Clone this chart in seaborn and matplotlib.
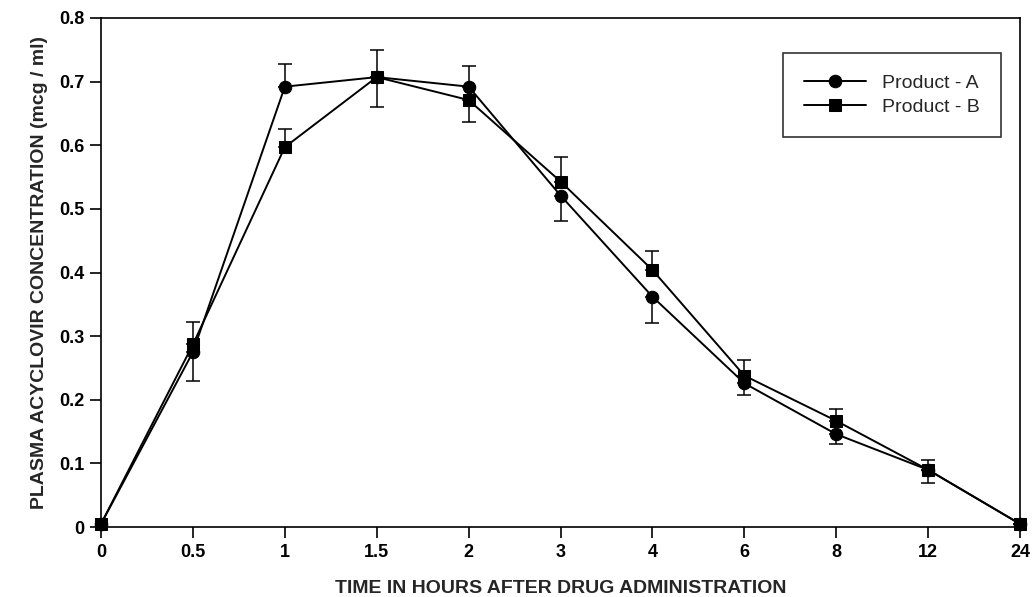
import numpy as np
import pandas as pd
import matplotlib
matplotlib.use("Agg")
import matplotlib.pyplot as plt
import seaborn as sns

# sampling times (hours), drawn as evenly spaced categories
times = ["0", "0.5", "1", "1.5", "2", "3", "4", "6", "8", "12", "24"]

conc_a = [0.005, 0.275, 0.692, 0.707, 0.692, 0.521, 0.362, 0.226, 0.146, 0.090, 0.005]
conc_b = [0.005, 0.287, 0.597, 0.707, 0.671, 0.543, 0.404, 0.238, 0.167, 0.090, 0.005]

# one-sided SE bars: A hangs down / B goes up (A up where A is on top)
err_a_lo = [0.0, 0.046, 0.0, 0.047, 0.0, 0.040, 0.042, 0.018, 0.016, 0.020, 0.0]
err_a_hi = [0.0, 0.0, 0.035, 0.0, 0.033, 0.0, 0.0, 0.0, 0.0, 0.0, 0.0]
err_b_lo = [0.0, 0.0, 0.0, 0.0, 0.035, 0.0, 0.0, 0.0, 0.0, 0.0, 0.0]
err_b_hi = [0.0, 0.036, 0.028, 0.043, 0.0, 0.039, 0.030, 0.025, 0.018, 0.016, 0.0]

sns.set_style("ticks")
plt.rcParams["font.family"] = ["Liberation Sans Narrow", "Liberation Sans", "DejaVu Sans"]

pos = np.arange(len(times))
df = pd.DataFrame({
    "t": np.concatenate([pos, pos]),
    "conc": conc_a + conc_b,
    "prod": ["Product - A"] * len(times) + ["Product - B"] * len(times),
})

fig = plt.figure(figsize=(10.35, 5.97), dpi=100)
ax = fig.add_axes([0.0976, 0.117, 0.888, 0.853])

sns.lineplot(data=df, x="t", y="conc", hue="prod", style="prod",
             palette=["black", "black"], markers=["o", "s"], dashes=False,
             markersize=9, linewidth=1.4, markeredgecolor="black", ax=ax,
             clip_on=False)

ax.errorbar(pos, conc_a, yerr=[err_a_lo, err_a_hi], fmt="none", ecolor="black",
            elinewidth=1.1, capsize=5, capthick=1.1)
ax.errorbar(pos, conc_b, yerr=[err_b_lo, err_b_hi], fmt="none", ecolor="black",
            elinewidth=1.1, capsize=5, capthick=1.1)

ax.set_xlim(0, len(times) - 1)
ax.set_ylim(0, 0.8)
ax.set_xticks(pos)
ax.set_xticklabels(times)
ax.set_yticks(np.arange(0, 0.81, 0.1))
ax.set_yticklabels(["0"] + ["%.1f" % v for v in np.arange(0.1, 0.81, 0.1)])
for lab in ax.get_xticklabels() + ax.get_yticklabels():
    lab.set_fontweight("bold")
    lab.set_fontsize(13)
ax.tick_params(axis="both", direction="out", length=8, width=1.2, colors="black", pad=4)
for sp in ax.spines.values():
    sp.set_visible(True)
    sp.set_linewidth(1.2)
    sp.set_color("black")

ax.set_xlabel("TIME IN HOURS AFTER DRUG ADMINISTRATION", fontsize=14,
              fontweight="bold", labelpad=14)
ax.set_ylabel("PLASMA ACYCLOVIR CONCENTRATION (mcg / ml)", fontsize=14,
              fontweight="bold", labelpad=8)

leg = ax.legend(loc="upper right", bbox_to_anchor=(0.99, 0.95), frameon=True,
                fancybox=False, edgecolor="black", fontsize=14, handlelength=3.2,
                borderpad=1.1, labelspacing=0.3)
leg.get_frame().set_linewidth(1.2)
leg.set_title(None)

fig.savefig("out.png", dpi=100)
